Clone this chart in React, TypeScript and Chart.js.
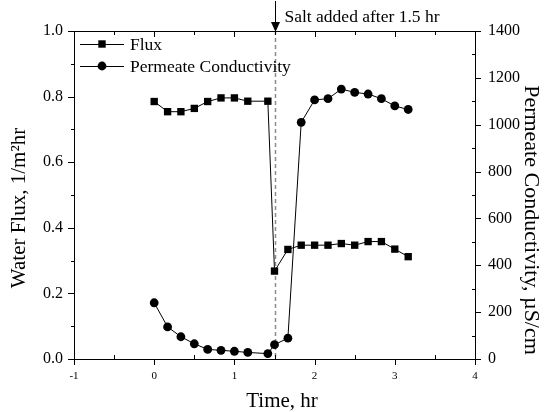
import React, { useEffect, useRef } from 'react';
import { Chart, registerables } from 'chart.js';

Chart.register(...registerables);

// ---- Data ----
const TIME_HR = [0, 0.167, 0.333, 0.5, 0.667, 0.833, 1.0, 1.167, 1.417, 1.5, 1.667, 1.833, 2.0, 2.167, 2.333, 2.5, 2.667, 2.833, 3.0, 3.167];
const FLUX = [0.785, 0.754, 0.754, 0.764, 0.785, 0.796, 0.796, 0.786, 0.786, 0.268, 0.334, 0.347, 0.347, 0.347, 0.352, 0.347, 0.358, 0.358, 0.335, 0.312];
const CONDUCTIVITY = [240, 137, 95, 65, 41, 37, 33, 28, 23, 61, 89, 1010, 1106, 1111, 1152, 1138, 1131, 1111, 1080, 1065];

const SALT_TIME = 1.5;
const SALT_LABEL = 'Salt added after 1.5 hr';
const X_TITLE = 'Time, hr';
const Y_TITLE = 'Water Flux, 1/m\u00B2hr';
const Y1_TITLE = 'Permeate Conductivity, \u00B5S/cm';
const LEGEND_LABELS = ['Flux', 'Permeate Conductivity'];

const X_RANGE = [-1, 4];
const Y_RANGE = [0, 1];
const Y1_RANGE = [0, 1400];

const FONT = '"Liberation Serif", "Times New Roman", serif';

const decorPlugin = {
  id: 'decor',
  beforeDatasetsDraw(chart: any) {
    const { ctx, chartArea: a, scales } = chart;
    const px = Math.round(scales.x.getPixelForValue(SALT_TIME)) + 0.5;
    ctx.save();
    ctx.strokeStyle = '#8c8c8c';
    ctx.lineWidth = 1.5;
    ctx.setLineDash([4, 3]);
    ctx.beginPath();
    ctx.moveTo(px, a.top);
    ctx.lineTo(px, a.bottom);
    ctx.stroke();
    ctx.restore();
  },
  afterDraw(chart: any) {
    const { ctx, chartArea: a, scales } = chart;
    const xs = scales.x, ys = scales.y, y1s = scales.y1;
    ctx.save();
    ctx.strokeStyle = '#000';
    ctx.fillStyle = '#000';
    ctx.lineWidth = 1;
    ctx.setLineDash([]);

    // top border
    ctx.beginPath();
    ctx.moveTo(a.left, a.top + 0.5);
    ctx.lineTo(a.right, a.top + 0.5);
    ctx.stroke();

    // x ticks (bottom + top)
    for (let i = 0; i <= 10; i++) {
      const v = X_RANGE[0] + i * 0.5;
      const p = Math.round(xs.getPixelForValue(v)) + 0.5;
      const major = i % 2 === 0;
      ctx.beginPath();
      if (major) {
        ctx.moveTo(p, a.bottom);
        ctx.lineTo(p, a.bottom + 6);
      } else {
        ctx.moveTo(p, a.bottom);
        ctx.lineTo(p, a.bottom - 4);
      }
      ctx.moveTo(p, a.top);
      ctx.lineTo(p, a.top + (major ? 6 : 4));
      ctx.stroke();
    }
    // left ticks
    for (let i = 0; i <= 10; i++) {
      const v = i * 0.1;
      const p = Math.round(ys.getPixelForValue(v)) + 0.5;
      const major = i % 2 === 0;
      ctx.beginPath();
      ctx.moveTo(a.left, p);
      ctx.lineTo(a.left - (major ? 6 : 3), p);
      ctx.stroke();
    }
    // right ticks
    for (let i = 0; i <= 14; i++) {
      const v = i * 100;
      const p = Math.round(y1s.getPixelForValue(v)) + 0.5;
      const major = i % 2 === 0;
      ctx.beginPath();
      if (major) {
        ctx.moveTo(a.right, p);
        ctx.lineTo(a.right + 6, p);
      } else {
        ctx.moveTo(a.right, p);
        ctx.lineTo(a.right - 3, p);
      }
      ctx.stroke();
    }

    // axis titles
    ctx.textAlign = 'center';
    ctx.textBaseline = 'alphabetic';
    ctx.font = `21px ${FONT}`;
    ctx.fillText(X_TITLE, 282, 407);

    ctx.save();
    ctx.translate(19, 208);
    ctx.rotate(-Math.PI / 2);
    ctx.textBaseline = 'middle';
    ctx.font = `21px ${FONT}`;
    ctx.fillText(Y_TITLE, 0, 0);
    ctx.restore();

    ctx.save();
    ctx.translate(531, 220);
    ctx.rotate(Math.PI / 2);
    ctx.textBaseline = 'middle';
    ctx.font = `22px ${FONT}`;
    ctx.fillText(Y1_TITLE, 0, 0);
    ctx.restore();

    // legend
    const rows = [44, 66];
    ctx.textAlign = 'left';
    ctx.textBaseline = 'middle';
    ctx.font = `17.5px ${FONT}`;
    rows.forEach((ry, idx) => {
      ctx.beginPath();
      ctx.moveTo(80, ry + 0.5);
      ctx.lineTo(124, ry + 0.5);
      ctx.stroke();
      if (idx === 0) {
        ctx.fillRect(102 - 3.7, ry - 3.7, 7.4, 7.4);
      } else {
        ctx.beginPath();
        ctx.arc(102, ry, 4.4, 0, Math.PI * 2);
        ctx.fill();
      }
      ctx.fillText(LEGEND_LABELS[idx], 130, ry + 1);
    });

    // salt annotation arrow
    const px = Math.round(xs.getPixelForValue(SALT_TIME)) + 0.5;
    ctx.beginPath();
    ctx.moveTo(px, 1);
    ctx.lineTo(px, 24);
    ctx.stroke();
    ctx.beginPath();
    ctx.moveTo(px - 4.5, 22);
    ctx.lineTo(px + 4.5, 22);
    ctx.lineTo(px, 32);
    ctx.closePath();
    ctx.fill();
    ctx.textAlign = 'left';
    ctx.textBaseline = 'alphabetic';
    ctx.font = `17.5px ${FONT}`;
    ctx.fillText(SALT_LABEL, px + 9, 22);

    ctx.restore();
  },
};

export default function App() {
  const ref = useRef<HTMLCanvasElement | null>(null);

  useEffect(() => {
    if (!ref.current) return;
    const chart = new Chart(ref.current, {
      type: 'line',
      data: {
        datasets: [
          {
            label: LEGEND_LABELS[0],
            data: TIME_HR.map((t, i) => ({ x: t, y: FLUX[i] })),
            yAxisID: 'y',
            borderColor: '#000',
            borderWidth: 1,
            pointStyle: 'rect',
            pointRadius: 5.2,
            pointBackgroundColor: '#000',
            pointBorderWidth: 0,
            tension: 0,
          },
          {
            label: LEGEND_LABELS[1],
            data: TIME_HR.map((t, i) => ({ x: t, y: CONDUCTIVITY[i] })),
            yAxisID: 'y1',
            borderColor: '#000',
            borderWidth: 1,
            pointStyle: 'circle',
            pointRadius: 4.4,
            pointBackgroundColor: '#000',
            pointBorderWidth: 0,
            tension: 0,
          },
        ],
      },
      options: {
        responsive: false,
        animation: false,
        layout: { padding: { top: 31, left: 0, right: 0, bottom: 0 } },
        plugins: {
          legend: { display: false },
          tooltip: { enabled: false },
        },
        scales: {
          x: {
            type: 'linear',
            position: 'bottom',
            min: X_RANGE[0],
            max: X_RANGE[1],
            ticks: { stepSize: 1, color: '#000', font: { family: FONT, size: 11 }, padding: 11, callback: (v: any) => String(v) },
            grid: { display: false, drawTicks: false },
            border: { display: true, color: '#000', width: 1 },
            afterFit: (s: any) => { s.height = 53; },
          },
          y: {
            type: 'linear',
            position: 'left',
            min: Y_RANGE[0],
            max: Y_RANGE[1],
            ticks: {
              stepSize: 0.2,
              color: '#000',
              font: { family: FONT, size: 16 },
              padding: 11,
              callback: (v: any) => Number(v).toFixed(1),
            },
            grid: { display: false, drawTicks: false },
            border: { display: true, color: '#000', width: 1 },
            afterFit: (s: any) => { s.width = 74; },
          },
          y1: {
            type: 'linear',
            position: 'right',
            min: Y1_RANGE[0],
            max: Y1_RANGE[1],
            ticks: { stepSize: 200, color: '#000', font: { family: FONT, size: 16 }, padding: 13, callback: (v: any) => String(Math.round(Number(v))) },
            grid: { display: false, drawTicks: false },
            border: { display: true, color: '#000', width: 1 },
            afterFit: (s: any) => { s.width = 72; },
          },
        },
      },
      plugins: [decorPlugin],
    });
    return () => chart.destroy();
  }, []);

  return (
    <div style={{ position: 'absolute', left: 0, top: 0, width: 547, height: 412, background: '#fff' }}>
      <canvas ref={ref} width={547} height={412} style={{ display: 'block' }} />
    </div>
  );
}
